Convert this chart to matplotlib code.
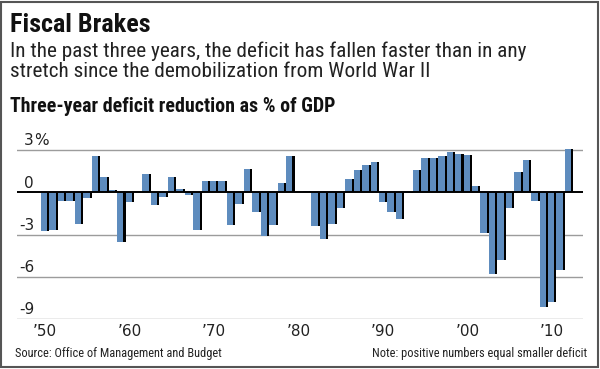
import numpy as np
import matplotlib
matplotlib.use('Agg')
import matplotlib.pyplot as plt
from matplotlib import font_manager, transforms
from matplotlib.patches import Rectangle

# 數據: 三年赤字削減 (% of GDP), 1950-2012
years = np.arange(1950, 2013)
values = [
    -2.78, -2.71, -0.60, -0.60, -2.23, -0.42, 2.56, 1.06, 0.17, -3.50,   # 1950s
    -0.72, 0.00, 1.29, -0.93, -0.32, 1.05, 0.25, -0.22, -2.71, 0.77,     # 1960s
    0.77, 0.77, -2.30, -0.82, 1.64, -1.38, -3.08, -2.30, 0.65, 2.56,     # 1970s
    0.00, 0.06, -2.42, -3.31, -2.24, -1.12, 0.96, 1.55, 1.95, 2.14,      # 1980s
    -0.71, -1.42, -1.92, -0.02, 1.55, 2.42, 2.42, 2.54, 2.89, 2.73,      # 1990s
    2.66, 0.46, -2.90, -5.79, -4.80, -1.12, 1.43, 2.26, -0.60, -8.17,    # 2000s
    -7.80, -5.49, 3.04,                                                  # 2010s
]
values = np.array(values)

y_ticks = [3, 0, -3, -6, -9]
y_tick_labels = ['3', '0', '-3', '-6', '-9']
x_ticks = [1950, 1960, 1970, 1980, 1990, 2000, 2010]
x_tick_labels = ['\u201950', '\u201960', '\u201970', '\u201980', '\u201990', '\u201900', '\u201910']

title = 'Fiscal Brakes'
subtitle_1 = 'In the past three years, the deficit has fallen faster than in any'
subtitle_2 = 'stretch since the demobilization from World War II'
chart_label = 'Three-year deficit reduction as % of GDP'
source = 'Source: Office of Management and Budget'
note = 'Note: positive numbers equal smaller deficit'

# 字體 (找窄體, 否則 Roboto)
names = {f.name for f in font_manager.fontManager.ttflist}
narrow = 'Roboto'
for cand in ['Roboto Condensed', 'Liberation Sans Narrow', 'Open Sans Condensed']:
    if cand in names:
        narrow = cand
        break

W, H = 600, 369
fig = plt.figure(figsize=(W / 100, H / 100), dpi=100)
renderer = fig.canvas.get_renderer()


def fx(px):
    return px / W


def fy(py):
    return 1 - py / H


def fit_text(x, y, s, width, size, **kw):
    # 調整字號讓文字寬度接近參考圖
    t = fig.text(fx(x), fy(y), s, fontsize=size, va='baseline', **kw)
    w = t.get_window_extent(renderer).width
    t.set_fontsize(size * width / w)
    return t


# 繪圖區
ymax = 3.3
ax = fig.add_axes([fx(17), fy(319), fx(583) - fx(17), fy(150 - 0.3 * 14.08) - fy(319)])
ax.set_xlim(1947.16, 2014.14)
ax.set_ylim(-9, ymax)
ax.axis('off')

for v in y_ticks:
    if v != 0:
        ax.axhline(v, color='#9c9c9c', lw=1.0, zorder=1)
ax.axhline(0, color='black', lw=1.4, zorder=3)

blue = '#5e8cbe'
ax.bar(years, values, width=0.76, align='edge', color=blue, zorder=2)
ax.bar(years + 0.76, values, width=0.24, align='edge', color='black', zorder=2)

# y 軸標籤 (在格線上方)
trans = transforms.blended_transform_factory(fig.transFigure, ax.transData)
for v, lab in zip(y_ticks, y_tick_labels):
    ax.text(fx(34), v + 0.12, lab, transform=trans, ha='right', va='bottom',
            fontsize=11, color='#222222', family='DejaVu Sans')
    if v == max(y_ticks):
        ax.text(fx(34), v + 0.12, '%', transform=trans, ha='left', va='bottom',
                fontsize=11, color='#222222', family='DejaVu Sans')

# x 軸標籤
for yr, lab in zip(x_ticks, x_tick_labels):
    ax.text(yr + 0.5, -9.35, lab, ha='center', va='top', fontsize=11,
            color='#222222', family='DejaVu Sans', clip_on=False)

# 標題與文字
fit_text(10, 32, title, 140, 18, fontweight='bold', family=narrow, color='#111111')
t1 = fit_text(10, 57, subtitle_1, 517, 12, family=narrow, color='#222222')
fig.text(fx(10), fy(77), subtitle_2, fontsize=t1.get_fontsize(), family=narrow,
         color='#222222', va='baseline')
fit_text(10, 112, chart_label, 323, 13, fontweight='bold', family=narrow, color='#111111')

# 來源與註解用同一字號
st = fit_text(15, 357, source, 167, 8, family=narrow, color='#222222')
nt = fig.text(fx(587), fy(357), note, fontsize=8, family=narrow, color='#222222',
              va='baseline', ha='right')
nw = nt.get_window_extent(renderer).width
small = (st.get_fontsize() + 8 * 259 / nw) / 2
st.set_fontsize(small)
nt.set_fontsize(small)

# 外框
fig.add_artist(Rectangle((fx(1), fy(367)), fx(597), 365 / H, transform=fig.transFigure,
                         fill=False, ec='#555555', lw=1.5))

fig.savefig('out.png', dpi=100)
